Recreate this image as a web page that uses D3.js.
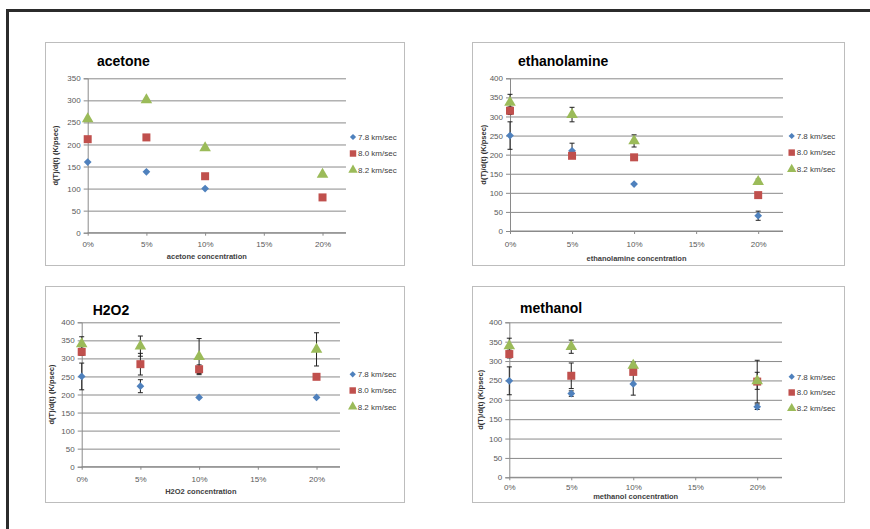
<!DOCTYPE html>
<html>
<head>
<meta charset="utf-8">
<script src="https://cdn.jsdelivr.net/npm/d3@7/dist/d3.min.js"></script>
<style>
  html, body { margin: 0; padding: 0; background: #fff; }
  svg { display: block; font-family: "Liberation Sans", Arial, sans-serif; }
</style>
</head>
<body>
<svg id="chart" width="870" height="529"></svg>
<script>
// Shared axis values
const concentrations = [0, 0.05, 0.10, 0.20];
const xTickValues = [0, 0.05, 0.10, 0.15, 0.20];
const seriesNames = ["7.8 km/sec", "8.0 km/sec", "8.2 km/sec"];
const yAxisLabel = "d(T)/d(t) (K/psec)";

// acetone (no error bars)
const acetone78 = [160, 138, 100, null];
const acetone80 = [212, 216, 128, 80];
const acetone82 = [258, 301, 192, 132];
const acetoneTicks = [0, 50, 100, 150, 200, 250, 300, 350];

// ethanolamine
const ethanolamine78 = [250, 210, 123, 40];
const ethanolamine80 = [315, 197, 193, 94];
const ethanolamine82 = [337, 305, 236, 129];
const ethanolamineErr78 = [36, 20, 0, 12];
const ethanolamineErr80 = [10, 0, 0, 0];
const ethanolamineErr82 = [21, 19, 16, 7];

// H2O2
const h2o278 = [250, 223, 192, 192];
const h2o280 = [318, 284, 270, 249];
const h2o282 = [340, 334, 305, 325];
const h2o2Err78 = [37, 18, 0, 0];
const h2o2Err80 = [10, 30, 12, 0];
const h2o2Err82 = [20, 28, 50, 46];

// methanol
const methanol78 = [249, 216, 241, 182];
const methanol80 = [318, 262, 272, 247];
const methanol82 = [339, 337, 289, 249];
const methanolErr78 = [36, 7, 29, 7];
const methanolErr80 = [10, 33, 0, 55];
const methanolErr82 = [20, 17, 8, 22];

const fourHundredTicks = [0, 50, 100, 150, 200, 250, 300, 350, 400];

const seriesColors = ["#4F81BD", "#C0504D", "#9BBB59"];
// diamond = square turned 45 degrees
const seriesShapes = [d3.symbolSquare, d3.symbolSquare, d3.symbolTriangle];
const seriesRotation = [45, 0, 0];
const seriesSizes = [30, 64, 58];

const panels = [
  { title: "acetone", xTitle: "acetone concentration",
    values: [acetone78, acetone80, acetone82], errors: null,
    yMax: 350, yTicks: acetoneTicks,
    box: [45, 42, 359, 223], plot: [87.7, 78.3, 346, 232.7],
    titlePos: [97, 66], xLabelDy: 11.5, xTitleY: 256, yTitleX: 55,
    legend: [353, 137, 16.5] },
  { title: "ethanolamine", xTitle: "ethanolamine concentration",
    values: [ethanolamine78, ethanolamine80, ethanolamine82],
    errors: [ethanolamineErr78, ethanolamineErr80, ethanolamineErr82],
    yMax: 400, yTicks: fourHundredTicks,
    box: [472, 42, 372, 223], plot: [510, 78.3, 783, 231],
    titlePos: [518, 66], xLabelDy: 13, xTitleY: 258, yTitleX: 483,
    legend: [791.7, 136, 16.6] },
  { title: "H2O2", xTitle: "H2O2 concentration",
    values: [h2o278, h2o280, h2o282],
    errors: [h2o2Err78, h2o2Err80, h2o2Err82],
    yMax: 400, yTicks: fourHundredTicks,
    box: [45, 286, 359, 216], plot: [81.7, 322.3, 340, 466.7],
    titlePos: [92.7, 315], xLabelDy: 12.3, xTitleY: 491.7, yTitleX: 51.7,
    legend: [352.7, 374.3, 16.2] },
  { title: "methanol", xTitle: "methanol concentration",
    values: [methanol78, methanol80, methanol82],
    errors: [methanolErr78, methanolErr80, methanolErr82],
    yMax: 400, yTicks: fourHundredTicks,
    box: [472, 286, 372, 216], plot: [509.3, 322.3, 782, 477.3],
    titlePos: [520, 312.7], xLabelDy: 10, xTitleY: 496, yTitleX: 480,
    legend: [791.7, 376.7, 15.8] }
];

const svg = d3.select("#chart");

// Outer dark frame running off the right and bottom edges
svg.append("rect")
  .attr("x", 7.5).attr("y", 10.5)
  .attr("width", 900).attr("height", 560)
  .attr("fill", "none").attr("stroke", "#2b2b2b").attr("stroke-width", 3);

const gridColor = "#8a8a8a";
const tickTextColor = "#595959";

panels.forEach(p => {
  const g = svg.append("g");
  const [bx, by, bw, bh] = p.box;
  g.append("rect")
    .attr("x", bx + 0.5).attr("y", by + 0.5)
    .attr("width", bw).attr("height", bh)
    .attr("fill", "#fff").attr("stroke", "#bdbdbd").attr("stroke-width", 1);

  const [left, top, right, bottom] = p.plot;
  const x = d3.scaleLinear().domain([0, 0.22]).range([left, right]);
  const y = d3.scaleLinear().domain([0, p.yMax]).range([bottom, top]);

  // horizontal gridlines
  const grid = g.append("g")
    .attr("transform", `translate(${left},0)`)
    .call(d3.axisLeft(y).tickValues(p.yTicks).tickSize(-(right - left)).tickFormat(""));
  grid.select(".domain").remove();
  grid.selectAll("line").attr("stroke", gridColor).attr("stroke-width", 1);

  // y axis with outward ticks
  const ya = g.append("g")
    .attr("transform", `translate(${left},0)`)
    .call(d3.axisLeft(y).tickValues(p.yTicks).tickSize(4).tickPadding(3));
  ya.select(".domain").attr("stroke", gridColor);
  ya.selectAll("line").attr("stroke", gridColor);
  ya.selectAll("text").attr("fill", tickTextColor).attr("font-size", 8);

  // x axis
  const xa = g.append("g")
    .attr("transform", `translate(0,${bottom})`)
    .call(d3.axisBottom(x).tickValues(xTickValues).tickSize(3).tickPadding(0)
      .tickFormat(d3.format(".0%")));
  xa.select(".domain").attr("stroke", gridColor).attr("d", `M${left},0H${right}`);
  xa.selectAll("line").attr("stroke", gridColor);
  xa.selectAll("text").attr("fill", tickTextColor).attr("font-size", 8)
    .attr("y", p.xLabelDy).attr("dy", "0.35em");

  // titles
  g.append("text")
    .attr("x", p.titlePos[0]).attr("y", p.titlePos[1])
    .attr("font-size", 14).attr("font-weight", "bold").attr("fill", "#000")
    .text(p.title);
  g.append("text")
    .attr("x", (left + right) / 2 - 10).attr("y", p.xTitleY).attr("dy", "0.35em")
    .attr("text-anchor", "middle").attr("font-size", 7.5).attr("font-weight", "bold")
    .attr("fill", "#404040")
    .text(p.xTitle);
  g.append("text")
    .attr("transform", `translate(${p.yTitleX},${(top + bottom) / 2}) rotate(-90)`)
    .attr("dy", "0.35em")
    .attr("text-anchor", "middle").attr("font-size", 7.5).attr("font-weight", "bold")
    .attr("fill", "#303030")
    .text(yAxisLabel);

  // error bars
  if (p.errors) {
    p.values.forEach((vals, si) => {
      const errs = p.errors[si];
      vals.forEach((v, i) => {
        const e = errs[i];
        if (v == null || !e) return;
        const cx = x(concentrations[i]);
        const y1 = y(v + e), y2 = y(v - e);
        g.append("line").attr("x1", cx).attr("x2", cx).attr("y1", y1).attr("y2", y2)
          .attr("stroke", "#222").attr("stroke-width", 1);
        [y1, y2].forEach(yy => {
          g.append("line").attr("x1", cx - 2.5).attr("x2", cx + 2.5)
            .attr("y1", yy).attr("y2", yy)
            .attr("stroke", "#222").attr("stroke-width", 1);
        });
      });
    });
  }

  // markers
  p.values.forEach((vals, si) => {
    const sym = d3.symbol().type(seriesShapes[si]).size(seriesSizes[si]);
    vals.forEach((v, i) => {
      if (v == null) return;
      g.append("path")
        .attr("d", sym())
        .attr("transform", `translate(${x(concentrations[i])},${y(v)}) rotate(${seriesRotation[si]})`)
        .attr("fill", seriesColors[si]);
    });
  });

  // legend
  const [lx, ly, step] = p.legend;
  seriesNames.forEach((name, si) => {
    const sym = d3.symbol().type(seriesShapes[si]).size(seriesSizes[si] * 0.65);
    g.append("path").attr("d", sym())
      .attr("transform", `translate(${lx},${ly + si * step}) rotate(${seriesRotation[si]})`)
      .attr("fill", seriesColors[si]);
    g.append("text")
      .attr("x", lx + 5).attr("y", ly + si * step).attr("dy", "0.35em")
      .attr("font-size", 8).attr("fill", "#404040")
      .text(name);
  });
});
</script>
</body>
</html>
